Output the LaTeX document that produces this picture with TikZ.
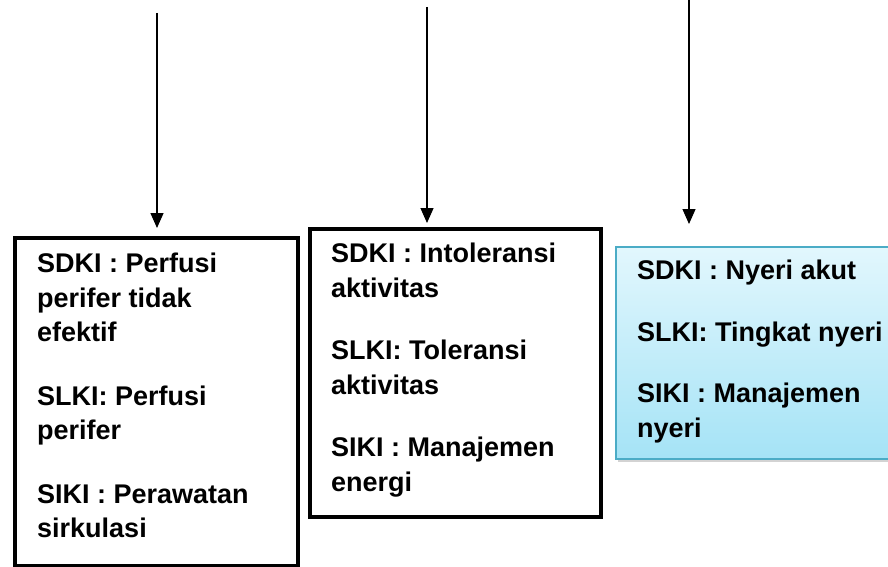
\documentclass[tikz,border=0pt]{standalone}
\usepackage{fontspec}
\setmainfont{Liberation Sans}
\usetikzlibrary{arrows.meta,shadows}

\definecolor{birutepi}{HTML}{4BACC6}
\definecolor{biruatas}{HTML}{E2F7FD}
\definecolor{birubawah}{HTML}{A5E3F6}

\begin{document}
\begin{tikzpicture}[x=1pt, y=-1pt,
    kotak/.style={draw, line width=4.3pt, inner sep=0pt, anchor=north west},
    isi/.style={inner sep=0pt, anchor=north west, align=left,
        font=\fontsize{27}{34.5}\selectfont\bfseries},
    panah/.style={line width=1.3pt, -{Triangle[length=15pt,width=13pt]}}]
    \useasboundingbox (0,0) rectangle (888,567);
    \clip (0,0) rectangle (888,567);

    % kotak diagnosa
    \node[kotak, minimum width=283pt, minimum height=328pt] (perfusi) at (13,236) {};
    \node[kotak, minimum width=291pt, minimum height=288pt] (aktivitas) at (308,227) {};
    \node[draw=birutepi, line width=1.5pt, top color=biruatas, bottom color=birubawah,
        drop shadow={shadow xshift=2pt, shadow yshift=-3pt, opacity=0.35},
        inner sep=0pt, anchor=north west, minimum width=290pt, minimum height=212pt]
        (nyeri) at (615,246) {};

    % teks
    \node[isi] (tperfusi) at (37,253) {SDKI : Perfusi\\perifer tidak\\efektif\\[29pt]
        SLKI: Perfusi\\perifer\\[29pt]SIKI : Perawatan\\sirkulasi};
    \node[isi] (taktivitas) at (331,243) {SDKI : Intoleransi\\aktivitas\\[28pt]
        SLKI: Toleransi\\aktivitas\\[28pt]SIKI : Manajemen\\energi};
    \node[isi] (tnyeri) at (637,260) {SDKI : Nyeri akut\\[27pt]
        SLKI: Tingkat nyeri\\[27pt]SIKI : Manajemen\\nyeri};

    % panah masuk
    \coordinate (p1) at (157,13);  \coordinate (u1) at (157,228);
    \coordinate (p2) at (427,7);   \coordinate (u2) at (427,223);
    \coordinate (p3) at (689,-2);  \coordinate (u3) at (689,224);
    \draw[panah] (p1) -- (u1);
    \draw[panah] (p2) -- (u2);
    \draw[panah] (p3) -- (u3);
\end{tikzpicture}
\end{document}
